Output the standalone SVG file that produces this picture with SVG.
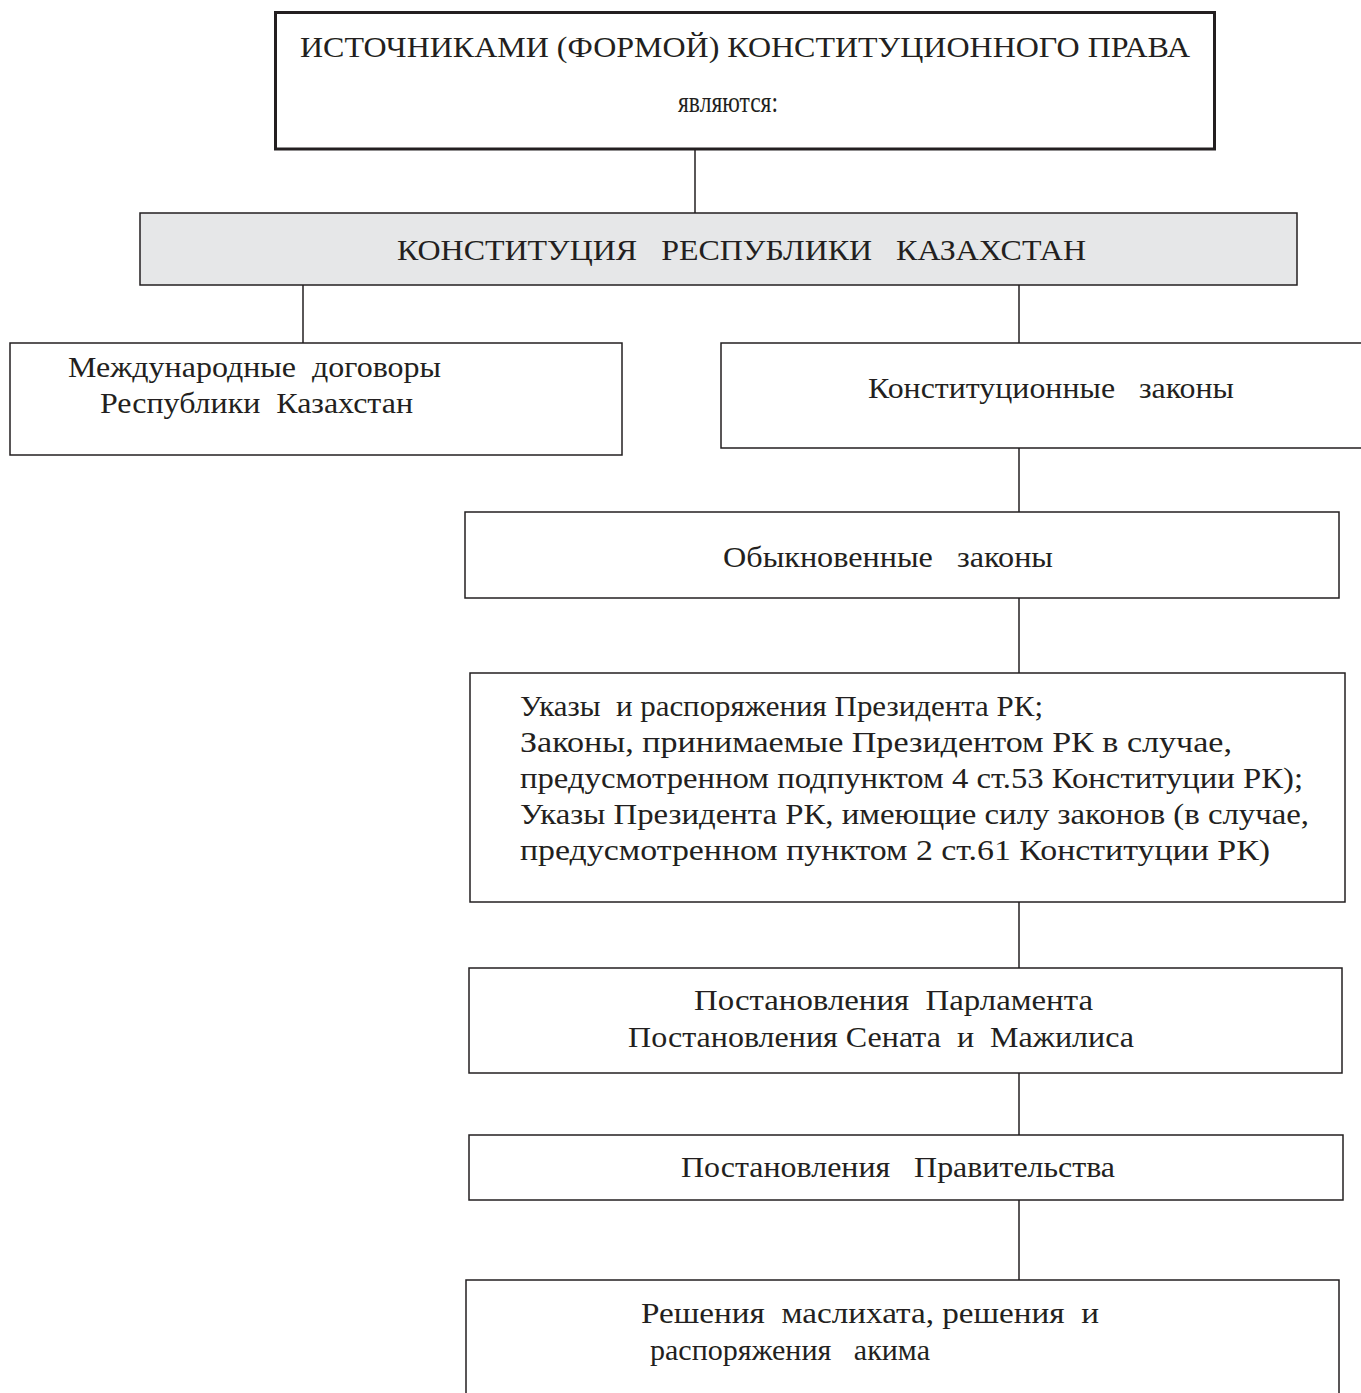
<svg xmlns="http://www.w3.org/2000/svg" width="1361" height="1393" viewBox="0 0 1361 1393">
<style>
.box{fill:#fff;stroke:#231f20;stroke-width:1.5}
.thick{fill:#fff;stroke:#231f20;stroke-width:3}
.gray{fill:#e6e7e8;stroke:#231f20;stroke-width:1.5}
.conn line{stroke:#231f20;stroke-width:1.5}
text{font-family:"Liberation Serif","Times New Roman",serif;font-size:30px;fill:#231f20;white-space:pre}
</style>
<rect width="1361" height="1393" fill="#fff"/>
<g id="connectors" class="conn">
<line x1="695" y1="149" x2="695" y2="213"/>
<line x1="303" y1="285" x2="303" y2="343"/>
<line x1="1019" y1="285" x2="1019" y2="343"/>
<line x1="1019" y1="448" x2="1019" y2="512"/>
<line x1="1019" y1="598" x2="1019" y2="673"/>
<line x1="1019" y1="902" x2="1019" y2="968"/>
<line x1="1019" y1="1073" x2="1019" y2="1135"/>
<line x1="1019" y1="1200" x2="1019" y2="1280"/>
</g>
<g id="n-top">
<rect class="thick" x="275.5" y="12.5" width="939" height="136.5"/>
<text x="300" y="57" textLength="890" lengthAdjust="spacingAndGlyphs" xml:space="preserve">ИСТОЧНИКАМИ (ФОРМОЙ) КОНСТИТУЦИОННОГО ПРАВА</text>
<text x="678" y="112" font-size="27" textLength="100" lengthAdjust="spacingAndGlyphs">являются:</text>
</g>
<g id="n-constitution">
<rect class="gray" x="140" y="213" width="1157" height="72"/>
<text x="397" y="260" textLength="689" lengthAdjust="spacingAndGlyphs" xml:space="preserve">КОНСТИТУЦИЯ   РЕСПУБЛИКИ   КАЗАХСТАН</text>
</g>
<g id="n-intl">
<rect class="box" x="10" y="343" width="612" height="112"/>
<text x="68" y="377" textLength="373" lengthAdjust="spacingAndGlyphs" xml:space="preserve">Международные  договоры</text>
<text x="100" y="413" textLength="313" lengthAdjust="spacingAndGlyphs" xml:space="preserve">Республики  Казахстан</text>
</g>
<g id="n-const-laws">
<path class="box" d="M1362 343 H721 V448 H1362"/>
<text x="868" y="398" textLength="366" lengthAdjust="spacingAndGlyphs" xml:space="preserve">Конституционные   законы</text>
</g>
<g id="n-ordinary">
<rect class="box" x="465" y="512" width="874" height="86"/>
<text x="723" y="567" textLength="330" lengthAdjust="spacingAndGlyphs" xml:space="preserve">Обыкновенные   законы</text>
</g>
<g id="n-decrees">
<rect class="box" x="470" y="673" width="875" height="229"/>
<text x="520" y="716" textLength="523" lengthAdjust="spacingAndGlyphs" xml:space="preserve">Указы  и распоряжения Президента РК;</text>
<text x="520" y="752" textLength="712" lengthAdjust="spacingAndGlyphs">Законы, принимаемые Президентом РК в случае,</text>
<text x="520" y="788" textLength="783" lengthAdjust="spacingAndGlyphs">предусмотренном подпунктом 4 ст.53 Конституции РК);</text>
<text x="520" y="824" textLength="789" lengthAdjust="spacingAndGlyphs">Указы Президента РК, имеющие силу законов (в случае,</text>
<text x="520" y="860" textLength="750" lengthAdjust="spacingAndGlyphs">предусмотренном пунктом 2 ст.61 Конституции РК)</text>
</g>
<g id="n-parliament">
<rect class="box" x="469" y="968" width="873" height="105"/>
<text x="694" y="1010" textLength="399" lengthAdjust="spacingAndGlyphs" xml:space="preserve">Постановления  Парламента</text>
<text x="628" y="1047" textLength="506" lengthAdjust="spacingAndGlyphs" xml:space="preserve">Постановления Сената  и  Мажилиса</text>
</g>
<g id="n-government">
<rect class="box" x="469" y="1135" width="874" height="65"/>
<text x="681" y="1177" textLength="434" lengthAdjust="spacingAndGlyphs" xml:space="preserve">Постановления   Правительства</text>
</g>
<g id="n-local">
<path class="box" d="M466 1394 V1280 H1339 V1394"/>
<text x="641" y="1323" textLength="458" lengthAdjust="spacingAndGlyphs" xml:space="preserve">Решения  маслихата, решения  и</text>
<text x="650" y="1360" textLength="280" lengthAdjust="spacingAndGlyphs" xml:space="preserve">распоряжения   акима</text>
</g>
</svg>
